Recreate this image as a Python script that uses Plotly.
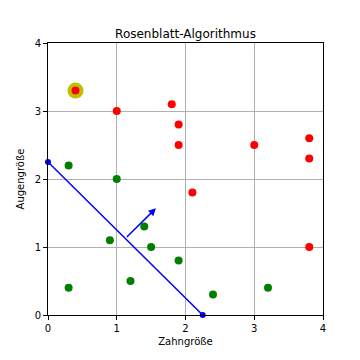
import plotly.graph_objects as go

red_x = [1.0, 1.8, 1.9, 1.9, 2.1, 3.0, 3.8, 3.8, 3.8, 0.4]
red_y = [3.0, 3.1, 2.8, 2.5, 1.8, 2.5, 2.6, 2.3, 1.0, 3.3]
green_x = [0.3, 1.0, 0.9, 1.4, 1.5, 0.3, 1.2, 1.9, 2.4, 3.2]
green_y = [2.2, 2.0, 1.1, 1.3, 1.0, 0.4, 0.5, 0.8, 0.3, 0.4]
highlight_x = [0.4]
highlight_y = [3.3]
line_x = [0.0, 2.25]
line_y = [2.25, 0.0]
arrow_start = [1.125, 1.125]
arrow_end = [1.57, 1.57]

font = "DejaVu Sans"
fig = go.Figure()
fig.add_trace(go.Scatter(x=highlight_x, y=highlight_y, mode="markers",
                         marker=dict(size=16, color="#bfbf00", line=dict(width=0))))
fig.add_trace(go.Scatter(x=red_x, y=red_y, mode="markers",
                         marker=dict(size=8, color="#ff0000", line=dict(width=0))))
fig.add_trace(go.Scatter(x=green_x, y=green_y, mode="markers",
                         marker=dict(size=8, color="#008000", line=dict(width=0))))
fig.add_trace(go.Scatter(x=line_x, y=line_y, mode="lines+markers",
                         line=dict(color="#0000ff", width=1.5),
                         marker=dict(size=6, color="#0000ff"), cliponaxis=False))
fig.add_annotation(x=arrow_end[0], y=arrow_end[1], ax=arrow_start[0], ay=arrow_start[1],
                   xref="x", yref="y", axref="x", ayref="y", text="",
                   showarrow=True, arrowhead=2, arrowsize=1, arrowwidth=1.5,
                   arrowcolor="#0000ff")

axis_common = dict(range=[0, 4], tickvals=[0, 1, 2, 3, 4], showgrid=True,
                   gridcolor="#b0b0b0", gridwidth=1, zeroline=False,
                   showline=True, linecolor="black", linewidth=1, mirror=True,
                   ticks="outside", ticklen=4, tickcolor="black",
                   tickfont=dict(family=font, size=10, color="black"))
fig.update_layout(
    width=360, height=360,
    margin=dict(l=36, r=45, t=35, b=53),
    plot_bgcolor="white", paper_bgcolor="white",
    showlegend=False,
    title=dict(text="Rosenblatt-Algorithmus", x=0.5, xref="paper", y=1, yref="paper",
               yanchor="bottom", pad=dict(b=5),
               font=dict(family=font, size=12, color="black")),
    xaxis=dict(**axis_common, title=dict(text="Zahngröße", standoff=4,
                                         font=dict(family=font, size=10, color="black"))),
    yaxis=dict(**axis_common, title=dict(text="Augengröße", standoff=8,
                                         font=dict(family=font, size=10, color="black"))),
)
fig.write_html("out.html")
